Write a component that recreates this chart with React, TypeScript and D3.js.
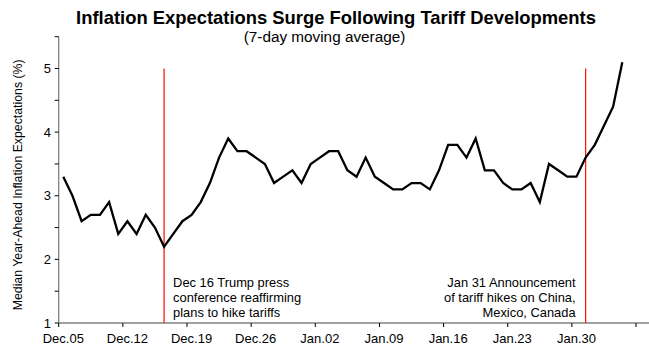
import React from "react";
import * as d3 from "d3";

const startDate = "2024-12-05";
const expectations = [
  3.3, 3.0, 2.6, 2.7, 2.7, 2.9, 2.4, 2.6, 2.4, 2.7, 2.5, 2.2, 2.4, 2.6, 2.7, 2.9,
  3.2, 3.6, 3.9, 3.7, 3.7, 3.6, 3.5, 3.2, 3.3, 3.4, 3.2, 3.5, 3.6, 3.7, 3.7, 3.4,
  3.3, 3.6, 3.3, 3.2, 3.1, 3.1, 3.2, 3.2, 3.1, 3.4, 3.8, 3.8, 3.6, 3.9, 3.4, 3.4,
  3.2, 3.1, 3.1, 3.2, 2.9, 3.5, 3.4, 3.3, 3.3, 3.6, 3.8, 4.1, 4.4, 5.1,
];
const xTickLabels = [
  "2024-12-05", "2024-12-12", "2024-12-19", "2024-12-26", "2025-01-02",
  "2025-01-09", "2025-01-16", "2025-01-23", "2025-01-30",
];
const yMajorTicks = [1, 2, 3, 4, 5];
const yMinorTicks = [1.5, 2.5, 3.5, 4.5, 5.5];
const eventDates = ["2024-12-16", "2025-01-31"];
const eventLines = [
  ["Dec 16 Trump press", "conference reaffirming", "plans to hike tariffs"],
  ["Jan 31 Announcement", "of tariff hikes on China,", "Mexico, Canada"],
];
const titleText = "Inflation Expectations Surge Following Tariff Developments";
const subtitleText = "(7-day moving average)";
const yLabel = "Median Year-Ahead Inflation Expectations (%)";

const FONT = "'Liberation Sans', Arial, sans-serif";
const W = 649;
const H = 349;

export default function App() {
  const parse = d3.utcParse("%Y-%m-%d");
  const start = parse(startDate) as Date;
  const data = expectations.map((v, i) => ({ date: d3.utcDay.offset(start, i), v }));

  const half = (d: Date) => d3.utcHour.offset(d, -12);
  const x = d3
    .scaleUtc()
    .domain([half(start), half(d3.utcDay.offset(start, 65))])
    .range([58.7, 58.7 + 65 * 9.164]);
  const y = d3.scaleLinear().domain([1, 5.5]).range([323, 36.7]);

  const line = d3
    .line<{ date: Date; v: number }>()
    .x((d) => x(d.date))
    .y((d) => y(d.v));

  const labelDates = xTickLabels.map((s) => parse(s) as Date);
  const tickDates = [...labelDates, d3.utcDay.offset(labelDates[labelDates.length - 1], 7)].map(half);
  const fmt = d3.utcFormat("%b.%d");
  const axisColor = "#808080";
  const x0 = x.range()[0];

  return (
    <svg
      width={W}
      height={H}
      style={{ position: "absolute", left: 0, top: 0, background: "#fff" }}
      fontFamily={FONT}
    >
      <text x={336} y={23.5} textAnchor="middle" fontSize={18.4} fontWeight="bold" fill="#000">
        {titleText}
      </text>
      <text x={324.5} y={41.5} textAnchor="middle" fontSize={15.3} fill="#000">
        {subtitleText}
      </text>

      {/* Y axis */}
      <line x1={x0} x2={x0} y1={y(5.5)} y2={y(1)} stroke={axisColor} strokeWidth={1.3} />
      {[...yMajorTicks, ...yMinorTicks].map((t) => (
        <line key={"yt" + t} x1={x0 - 4} x2={x0} y1={y(t)} y2={y(t)} stroke="#000" strokeWidth={1} />
      ))}
      {yMajorTicks.map((t) => (
        <text key={"yl" + t} x={51} y={y(t) + 4.5} textAnchor="end" fontSize={13} fill="#000">
          {t}
        </text>
      ))}
      <text
        transform={`translate(22,${(y(5.5) + y(1)) / 2 + 5}) rotate(-90)`}
        textAnchor="middle"
        fontSize={12.3}
        fill="#000"
      >
        {yLabel}
      </text>

      {/* X axis */}
      <line x1={x0} x2={W} y1={y(1)} y2={y(1)} stroke={axisColor} strokeWidth={1.3} />
      {tickDates.map((d, i) => (
        <line key={"xt" + i} x1={x(d)} x2={x(d)} y1={y(1)} y2={y(1) + 4} stroke="#000" strokeWidth={1} />
      ))}
      {labelDates.map((d, i) => (
        <text key={"xl" + i} x={x(d)} y={343} textAnchor="middle" fontSize={13} fill="#000">
          {fmt(d)}
        </text>
      ))}

      {/* Event lines */}
      {eventDates.map((s, i) => {
        const ex = x(parse(s) as Date);
        const right = i === 1;
        return (
          <g key={"ev" + i}>
            <line x1={ex} x2={ex} y1={y(5)} y2={y(1)} stroke="#ff1a1a" strokeWidth={1.3} />
            {eventLines[i].map((t, j) => (
              <text
                key={j}
                x={right ? ex - 10 : ex + 9}
                y={287 + j * 15}
                textAnchor={right ? "end" : "start"}
                fontSize={12.9}
                fill="#000"
              >
                {t}
              </text>
            ))}
          </g>
        );
      })}

      <path d={line(data) ?? ""} fill="none" stroke="#000" strokeWidth={2.3} strokeLinejoin="miter" />
    </svg>
  );
}
